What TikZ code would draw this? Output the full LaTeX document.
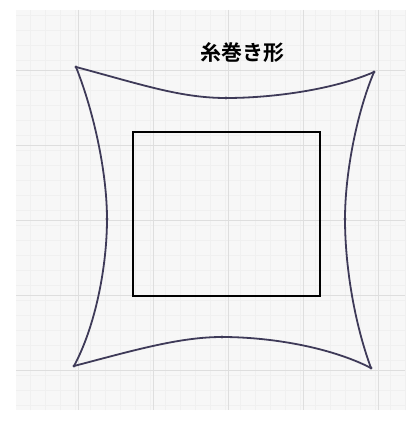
\documentclass[tikz,border=0pt]{standalone}
\usepackage{fontspec}
\newfontfamily\jpfont{Noto Sans CJK JP}[BoldFont={* Bold}]
\definecolor{pen}{HTML}{3E3A58}
\begin{document}
\begin{tikzpicture}[x=1pt,y=-1pt,
    paper/.style={fill=black!3,draw=none},
    fine/.style={draw=black!6,line width=0.3pt},
    major/.style={draw=black!13,line width=0.5pt},
    edge/.style={draw=pen,line width=1.8pt,line cap=round},
    tick/.style={fill=pen}]
      \useasboundingbox (0,0) rectangle (411,422);
      \fill[white] (0,0) rectangle (411,422);
      \path[paper] (16,10) rectangle (405,410);
      \draw[fine] (16,10) grid[step=15pt] (405,410);
      \foreach \x in {78,153,228,303,378}
        \draw[major] (\x,10) -- (\x,410);
      \foreach \y in {70,145,220,295,370}
        \draw[major] (16,\y) -- (405,\y);
      \coordinate (tl) at (76,67);
      \coordinate (tr) at (374,72);
      \coordinate (bl) at (74,366);
      \coordinate (br) at (371,368);
      \coordinate (tm) at (226,98);
      \coordinate (bm) at (222,337);
      \coordinate (lm) at (107,219);
      \coordinate (rm) at (345,219);
      \node[font=\jpfont\bfseries\fontsize{21}{21}\selectfont] (title) at (242,53) {糸巻き形};
      % top and bottom
      \draw[edge] (tl) .. controls (140,84) and (180,98) .. (tm)
        .. controls (275,98) and (335,89) .. (tr);
      \draw[edge] (bl) .. controls (135,350) and (180,337) .. (bm)
        .. controls (270,337) and (330,347) .. (br);
      % left and right
      \draw[edge] (tl) .. controls (95,115) and (107,175) .. (lm)
        .. controls (107,265) and (96,325) .. (bl);
      \draw[edge] (tr) .. controls (356,115) and (345,175) .. (rm)
        .. controls (345,265) and (354,322) .. (br);
      \foreach \p in {tl,tr,bl,br,tm,bm,lm,rm}
        \fill[tick] (\p) circle (1.6pt);
      \draw[line width=1.4pt] (133,132) rectangle (320,296);
    \end{tikzpicture}
\end{document}
